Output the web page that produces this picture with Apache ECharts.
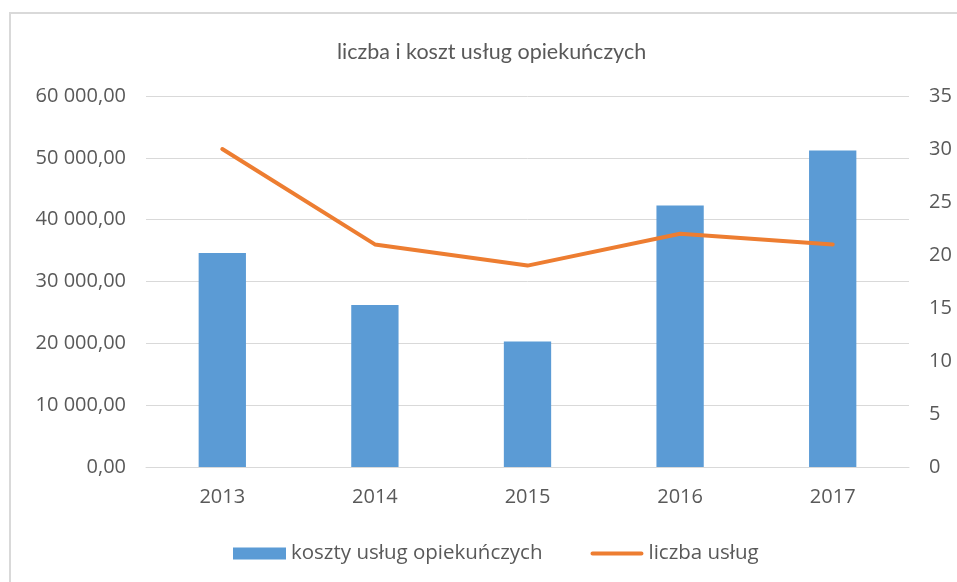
<!DOCTYPE html>
<html>
<head>
<meta charset="utf-8">
<script src="https://cdn.jsdelivr.net/npm/echarts@6/dist/echarts.min.js"></script>
<style>
html,body{margin:0;padding:0;background:#fff;}
#c{width:957px;height:582px;}
</style>
</head>
<body>
<div id="c"></div>
<script>
const categories = ['2013', '2014', '2015', '2016', '2017'];
const kosztyValues = [34600, 26200, 20300, 42300, 51200];
const liczbaValues = [30, 21, 19, 22, 21];
const titleText = 'liczba i koszt usług opiekuńczych';
const seriesNames = ['koszty usług opiekuńczych', 'liczba usług'];

function fmtPL(v) {
  const parts = Math.round(v).toString().replace(/\B(?=(\d{3})+(?!\d))/g, ' ');
  return parts + ',00';
}

const chart = echarts.init(document.getElementById('c'), null, {renderer: 'canvas'});
const font = 'Open Sans';
chart.setOption({
  animation: false,
  backgroundColor: '#ffffff',
  graphic: [{
    type: 'rect',
    shape: {x: 10, y: 13, width: 980, height: 600},
    style: {fill: 'none', stroke: '#d9d9d9', lineWidth: 2},
    silent: true
  }],
  title: {
    text: titleText,
    left: 332,
    top: 36,
    textStyle: {fontFamily: 'Lato', fontSize: 21.5, fontWeight: 'normal', color: '#595959'}
  },
  legend: {
    data: [
      {name: seriesNames[0], icon: 'rect'},
      {name: seriesNames[1], icon: 'path://M2,0 L50,0 A2,2 0 0 1 50,4 L2,4 A2,2 0 0 1 2,0 Z', itemStyle: {color: '#ed7d31'}}
    ],
    left: 228,
    top: 538,
    itemWidth: 53,
    itemHeight: 12,
    itemGap: 48,
    textStyle: {fontFamily: font, fontSize: 20.5, color: '#595959'}
  },
  grid: {left: 146, right: 48, top: 96, bottom: 115, containLabel: false},
  xAxis: {
    type: 'category',
    data: categories,
    axisLine: {lineStyle: {color: '#d9d9d9', width: 1}},
    axisTick: {show: false},
    axisLabel: {fontFamily: font, fontSize: 20, color: '#595959', margin: 20}
  },
  yAxis: [{
    type: 'value',
    min: 0, max: 60000, interval: 10000,
    axisLine: {show: false},
    axisTick: {show: false},
    splitLine: {lineStyle: {color: '#d9d9d9', width: 1}},
    axisLabel: {fontFamily: font, fontSize: 20, color: '#595959', margin: 20, formatter: fmtPL}
  }, {
    type: 'value',
    min: 0, max: 35, interval: 5,
    axisLine: {show: false},
    axisTick: {show: false},
    splitLine: {show: false},
    axisLabel: {fontFamily: font, fontSize: 20, color: '#595959', margin: 20}
  }],
  series: [{
    name: seriesNames[0],
    type: 'bar',
    data: kosztyValues,
    yAxisIndex: 0,
    barWidth: '31%',
    itemStyle: {color: '#5b9bd5'}
  }, {
    name: seriesNames[1],
    type: 'line',
    data: liczbaValues,
    yAxisIndex: 1,
    symbol: 'none',
    lineStyle: {color: '#ed7d31', width: 4, cap: 'round', join: 'round'},
    itemStyle: {color: '#ed7d31'}
  }]
});
</script>
</body>
</html>
